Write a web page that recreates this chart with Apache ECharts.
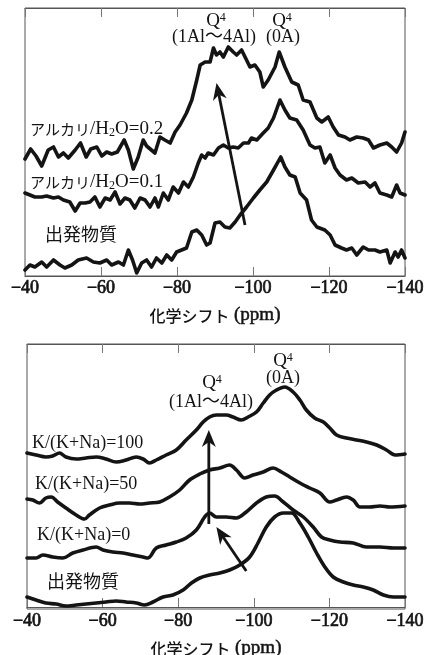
<!DOCTYPE html>
<html><head><meta charset="utf-8">
<script src="https://cdn.jsdelivr.net/npm/echarts@6/dist/echarts.min.js"></script>
<style>html,body{margin:0;padding:0;background:#fff}#c{width:427px;height:655px}</style>
</head><body><div id="c"></div>
<script>
// ---------- data (x = chemical shift ppm, y = relative intensity) ----------
const xTicks = [-40, -60, -80, -100, -120, -140];
const axisTitleJa = '化学シフト';
const axisTitleUnit = '(ppm)';

// Top panel
const a02_ppm = [-40,-41.5,-42.9,-44.4,-46.1,-47.5,-48.8,-50.1,-51.4,-53.2,-54.6,-56.1,-57.3,-58.9,-60.2,-61.5,-62.8,-64.3,-66.1,-67.2,-68.5,-69.8,-71.1,-72.0,-74.2,-75.5,-76.8,-78.2,-79.5,-80.8,-82.5,-83.9,-85.2,-86.1,-87.4,-88.7,-89.6,-90.4,-91.3,-92.2,-93.5,-94.8,-95.7,-97.0,-98.3,-99.2,-100.5,-101.8,-102.7,-104.0,-105.8,-106.9,-108.4,-110.2,-111.9,-113.2,-115.0,-116.8,-118.1,-119.8,-121.1,-122.5,-124.2,-125.5,-127.3,-129.0,-130.4,-131.7,-133.4,-135.2,-136.5,-137.8,-139.1,-140];
const a02_int = [117,127,120,110,126,129,119,123,118,126,133,119,127,129,120,124,122,124,136,126,107,119,136,130,123,139,136,133,144,151,163,176,196,211,214,214,228,221,224,219,229,224,221,226,216,209,211,204,189,196,209,224,209,194,191,176,174,158,154,159,149,141,139,136,139,138,136,128,131,133,129,124,133,144];

const a01_ppm = [-40,-41.3,-42.6,-44.4,-45.7,-47.5,-48.8,-50.1,-51.8,-53.2,-54.5,-55.8,-57.1,-58.4,-59.7,-61.1,-62.4,-63.7,-65.0,-66.3,-67.6,-68.9,-70.3,-71.6,-72.9,-74.2,-75.1,-76.4,-77.7,-79.0,-80.4,-81.7,-83.0,-84.3,-85.6,-86.5,-87.4,-88.2,-89.6,-90.9,-92.2,-93.5,-94.8,-96.1,-97.5,-98.8,-99.6,-101.0,-102.7,-104.0,-105.4,-107.1,-108.4,-109.7,-111.5,-113.2,-115.0,-116.3,-117.6,-118.9,-120.3,-121.6,-122.9,-124.6,-126.0,-127.7,-129.5,-130.8,-132.1,-133.4,-135.2,-136.5,-137.8,-138.7,-140];
const a01_int = [83,81,79,79,80,78,79,76,74,65,73,73,74,79,69,78,76,84,72,78,76,68,78,76,69,78,69,83,76,89,83,94,89,99,113,121,118,123,121,128,131,128,129,128,133,133,138,136,143,148,158,176,166,158,156,146,131,128,129,113,121,108,101,96,98,93,94,89,93,83,81,79,91,83,81];

const s1_ppm = [-40,-41.3,-42.6,-44.4,-45.7,-47.5,-49.2,-50.5,-52.3,-54.0,-56.2,-58.0,-59.7,-61.5,-62.8,-64.6,-65.9,-67.2,-68.3,-69.4,-70.7,-72.0,-73.3,-74.6,-76.0,-77.3,-78.6,-79.9,-81.2,-82.5,-83.9,-85.2,-86.5,-87.8,-88.7,-90.0,-91.3,-92.6,-93.9,-95.3,-96.6,-98.3,-100.1,-101.8,-103.6,-105.4,-107.3,-108.4,-109.7,-111.1,-112.4,-114.1,-115.4,-116.8,-118.9,-120.3,-121.6,-123.3,-124.6,-126.0,-127.3,-129.0,-130.4,-132.1,-133.4,-135.2,-136.1,-137.4,-138.2,-139.1,-140];
const s1_int = [6,11,9,14,9,16,11,8,11,16,18,14,13,16,11,14,11,26,16,3,13,16,9,18,13,21,16,24,26,28,44,46,41,31,33,53,54,49,48,54,61,69,78,86,94,106,119,109,101,99,83,76,56,49,46,41,31,28,26,28,21,29,26,26,24,26,13,24,19,26,18];

// Bottom panel
const k100_ppm = [-40,-42.4,-45.0,-46.8,-48.6,-50.3,-53.0,-55.6,-58.3,-60.9,-63.6,-66.2,-68.9,-70.7,-72.4,-74.2,-76.8,-79.5,-82.1,-84.8,-86.6,-88.3,-90.1,-92.7,-94.5,-96.7,-98.5,-100.7,-102.5,-104.2,-106.0,-108.2,-110.4,-112.2,-113.9,-116.1,-118.4,-120.1,-121.9,-124.5,-127.2,-129.8,-132.5,-135.1,-137.4,-140];
const k100_int = [154,152,150,151,154,150,148,149,150,148,145,147,150,148,144,147,152,157,167,177,185,190,192,192,190,187,190,195,204,212,217,220,215,207,197,189,185,179,172,169,167,165,162,157,152,153];

const k50_ppm = [-40,-41.5,-43.3,-45.0,-46.4,-48.1,-50.3,-53.0,-55.2,-56.5,-59.2,-61.8,-64.5,-67.1,-69.8,-72.4,-75.1,-77.7,-80.4,-83.0,-85.7,-88.3,-91.0,-93.6,-95.4,-97.6,-99.8,-102.5,-105.1,-107.3,-109.5,-112.2,-114.8,-117.5,-120.1,-121.9,-124.5,-126.3,-128.1,-130.7,-133.4,-136.0,-140];
const k50_int = [108,107,104,109,110,105,99,92,88,92,99,102,104,104,103,104,105,110,117,127,133,137,139,142,137,129,132,135,139,135,130,124,119,114,105,107,110,107,100,100,101,100,101];

const k0_ppm = [-40,-42.4,-44.2,-46.8,-49.5,-52.1,-54.8,-58.3,-60.1,-62.7,-65.4,-68.0,-70.7,-72.0,-74.2,-76.8,-79.5,-82.1,-84.8,-87.0,-88.3,-90.1,-92.7,-95.4,-98.0,-100.7,-103.3,-105.5,-107.8,-110.4,-113.1,-115.7,-117.9,-120.1,-122.8,-126.3,-129.8,-133.4,-136.9,-140];
const k0_int = [49,49,52,50,49,54,57,60,57,55,54,52,50,49,59,62,65,69,77,90,94,90,90,89,95,104,110,111,105,97,90,80,70,67,65,64,60,60,59,59];

const s2_ppm = [-40,-42.4,-45.0,-47.7,-50.3,-53.0,-55.6,-58.3,-60.9,-63.6,-66.2,-68.9,-71.1,-73.3,-76.0,-78.6,-81.3,-83.5,-85.7,-88.3,-91.0,-93.6,-96.3,-98.9,-101.1,-103.3,-105.5,-107.8,-110.0,-112.2,-114.4,-116.6,-118.8,-121.0,-123.7,-126.3,-129.0,-131.6,-134.3,-136.9,-140];
const s2_int = [10,7,4,3,1,2,3,4,5,6,5,4,2,5,10,12,17,24,29,32,34,37,42,50,64,80,90,94,94,84,70,54,40,30,25,22,20,17,12,10,10];

// Arrows (data coordinates: [ppm, intensity])
const topArrows = [[[-97.9, 51], [-90.4, 193]]];
const botArrows = [[[-88.1, 83], [-88.1, 177]], [[-98.0, 36], [-90.1, 80]]];

// ---------- chart ----------
const FONT = '"Liberation Serif","Times New Roman","Noto Sans CJK JP",serif';
const CJK = '"Noto Sans CJK JP",sans-serif';
const INK = '#141414';
const pairs = (xs, ys) => xs.slice(0, Math.min(xs.length, ys.length)).map((x, i) => [x, ys[i]]);

function xAx(grid, pos, withLabels) {
  return {
    gridIndex: grid, type: 'value', position: pos, min: -140, max: -40, interval: 20, inverse: true,
    axisLine: { show: true, lineStyle: { color: '#555', width: 1 } },
    axisTick: { show: true, inside: true, length: 9, lineStyle: { color: '#777', width: 1 } },
    splitLine: { show: false },
    axisLabel: withLabels ? {
      show: true, fontSize: 18, fontFamily: FONT, color: INK, margin: 3,
      textBorderColor: INK, textBorderWidth: 0.7,
      formatter: v => (xTicks.indexOf(v) >= 0 ? String(v).replace('-', '\u2212') : '')
    } : { show: false },
    name: withLabels ? '{c|' + axisTitleJa + '} {u|' + axisTitleUnit + '}' : '',
    nameLocation: 'middle', nameGap: 30,
    nameTextStyle: {
      fontSize: 18, fontFamily: FONT, color: INK,
      rich: {
        c: { fontSize: 16, fontFamily: CJK, color: INK, fontWeight: 500 },
        u: { fontSize: 19, fontFamily: FONT, color: INK, textBorderColor: INK, textBorderWidth: 0.5 }
      }
    }
  };
}

function line(xi, yi, xs, ys, smooth) {
  return {
    type: 'line', xAxisIndex: xi, yAxisIndex: yi, data: pairs(xs, ys), symbol: 'none', smooth: smooth,
    lineStyle: { color: INK, width: 3.6, join: 'round', cap: 'round' }, silent: true, animation: false
  };
}

const chart = echarts.init(document.getElementById('c'), null, { renderer: 'canvas' });
chart.setOption({
  animation: false,
  backgroundColor: '#fff',
  grid: [
    { left: 25, top: 8, width: 380, height: 268, show: true, borderColor: '#555', borderWidth: 1, outerBoundsMode: 'none', containLabel: false },
    { left: 27, top: 344, width: 378, height: 265, show: true, borderColor: '#555', borderWidth: 1, outerBoundsMode: 'none', containLabel: false }
  ],
  xAxis: [xAx(0, 'bottom', true), xAx(0, 'top', false), xAx(1, 'bottom', true), xAx(1, 'top', false)],
  yAxis: [
    { gridIndex: 0, type: 'value', min: 0, max: 268, show: false },
    { gridIndex: 1, type: 'value', min: -2, max: 263, show: false }
  ],
  series: [
    line(0, 0, a02_ppm, a02_int, false),
    line(0, 0, a01_ppm, a01_int, false),
    line(0, 0, s1_ppm, s1_int, false),
    line(2, 1, k100_ppm, k100_int, 0.35),
    line(2, 1, k50_ppm, k50_int, 0.35),
    line(2, 1, k0_ppm, k0_int, 0.35),
    line(2, 1, s2_ppm, s2_int, 0.35)
  ]
});

// text annotations (pixel placement)
function richFor(f) {
  return {
    n: { fontSize: f, fontFamily: FONT, fill: INK, verticalAlign: 'middle' },
    k: { fontSize: 15, fontFamily: CJK, fill: INK, verticalAlign: 'middle' },
    s: { fontSize: 12, fontFamily: FONT, fill: INK, verticalAlign: 'top' },
    b: { fontSize: 12, fontFamily: FONT, fill: INK, verticalAlign: 'bottom' }
  };
}
const labels = [
  { x: 216, y: 21, t: '{n|Q}{s|4}', a: 'center', f: 19 },
  { x: 214, y: 37, t: '{n|(1Al〜4Al)}', a: 'center', f: 18 },
  { x: 282, y: 21, t: '{n|Q}{s|4}', a: 'center', f: 19 },
  { x: 283, y: 37, t: '{n|(0A)}', a: 'center', f: 18 },
  { x: 30, y: 129, t: '{k|アルカリ}{n|/H}{b|2}{n|O=0.2}', a: 'left', f: 19 },
  { x: 30, y: 182, t: '{k|アルカリ}{n|/H}{b|2}{n|O=0.1}', a: 'left', f: 19 },
  { x: 45, y: 236, t: '{n|出発物質}', a: 'left', f: 18 },
  { x: 283, y: 361, t: '{n|Q}{s|4}', a: 'center', f: 19 },
  { x: 283, y: 378, t: '{n|(0A)}', a: 'center', f: 18 },
  { x: 212, y: 383, t: '{n|Q}{s|4}', a: 'center', f: 19 },
  { x: 211, y: 402, t: '{n|(1Al〜4Al)}', a: 'center', f: 18 },
  { x: 32, y: 443, t: '{n|K/(K+Na)=100}', a: 'left', f: 18 },
  { x: 35, y: 484, t: '{n|K/(K+Na)=50}', a: 'left', f: 18 },
  { x: 37, y: 535, t: '{n|K/(K+Na)=0}', a: 'left', f: 18 },
  { x: 47, y: 583, t: '{n|出発物質}', a: 'left', f: 18 }
];
const graphics = labels.map((l, i) => ({
  type: 'text', id: 't' + i, x: l.x, y: l.y, silent: true,
  style: {
    text: l.t, fontSize: l.f, fontFamily: FONT, fill: INK,
    align: l.a, textAlign: l.a, verticalAlign: 'middle', textVerticalAlign: 'middle', rich: richFor(l.f)
  }
}));

function arrow(id, seriesIndex, from, to) {
  const p = chart.convertToPixel({ seriesIndex: seriesIndex }, from);
  const q = chart.convertToPixel({ seriesIndex: seriesIndex }, to);
  const dx = q[0] - p[0], dy = q[1] - p[1];
  const L = Math.hypot(dx, dy), ux = dx / L, uy = dy / L, nx = -uy, ny = ux;
  const hl = 17, hw = 7, notch = 12;
  const base = [q[0] - ux * notch, q[1] - uy * notch];
  const wing = [q[0] - ux * hl, q[1] - uy * hl];
  return [
    { type: 'line', id: id + 'l', silent: true, shape: { x1: p[0], y1: p[1], x2: base[0], y2: base[1] },
      style: { stroke: INK, lineWidth: 2.8 } },
    { type: 'polygon', id: id + 'h', silent: true,
      shape: { points: [q, [wing[0] + nx * hw, wing[1] + ny * hw], base, [wing[0] - nx * hw, wing[1] - ny * hw]] },
      style: { fill: INK } }
  ];
}
topArrows.forEach((a, i) => graphics.push(...arrow('ta' + i, 0, a[0], a[1])));
botArrows.forEach((a, i) => graphics.push(...arrow('ba' + i, 3, a[0], a[1])));
chart.setOption({ graphic: graphics });
</script>
</body></html>
